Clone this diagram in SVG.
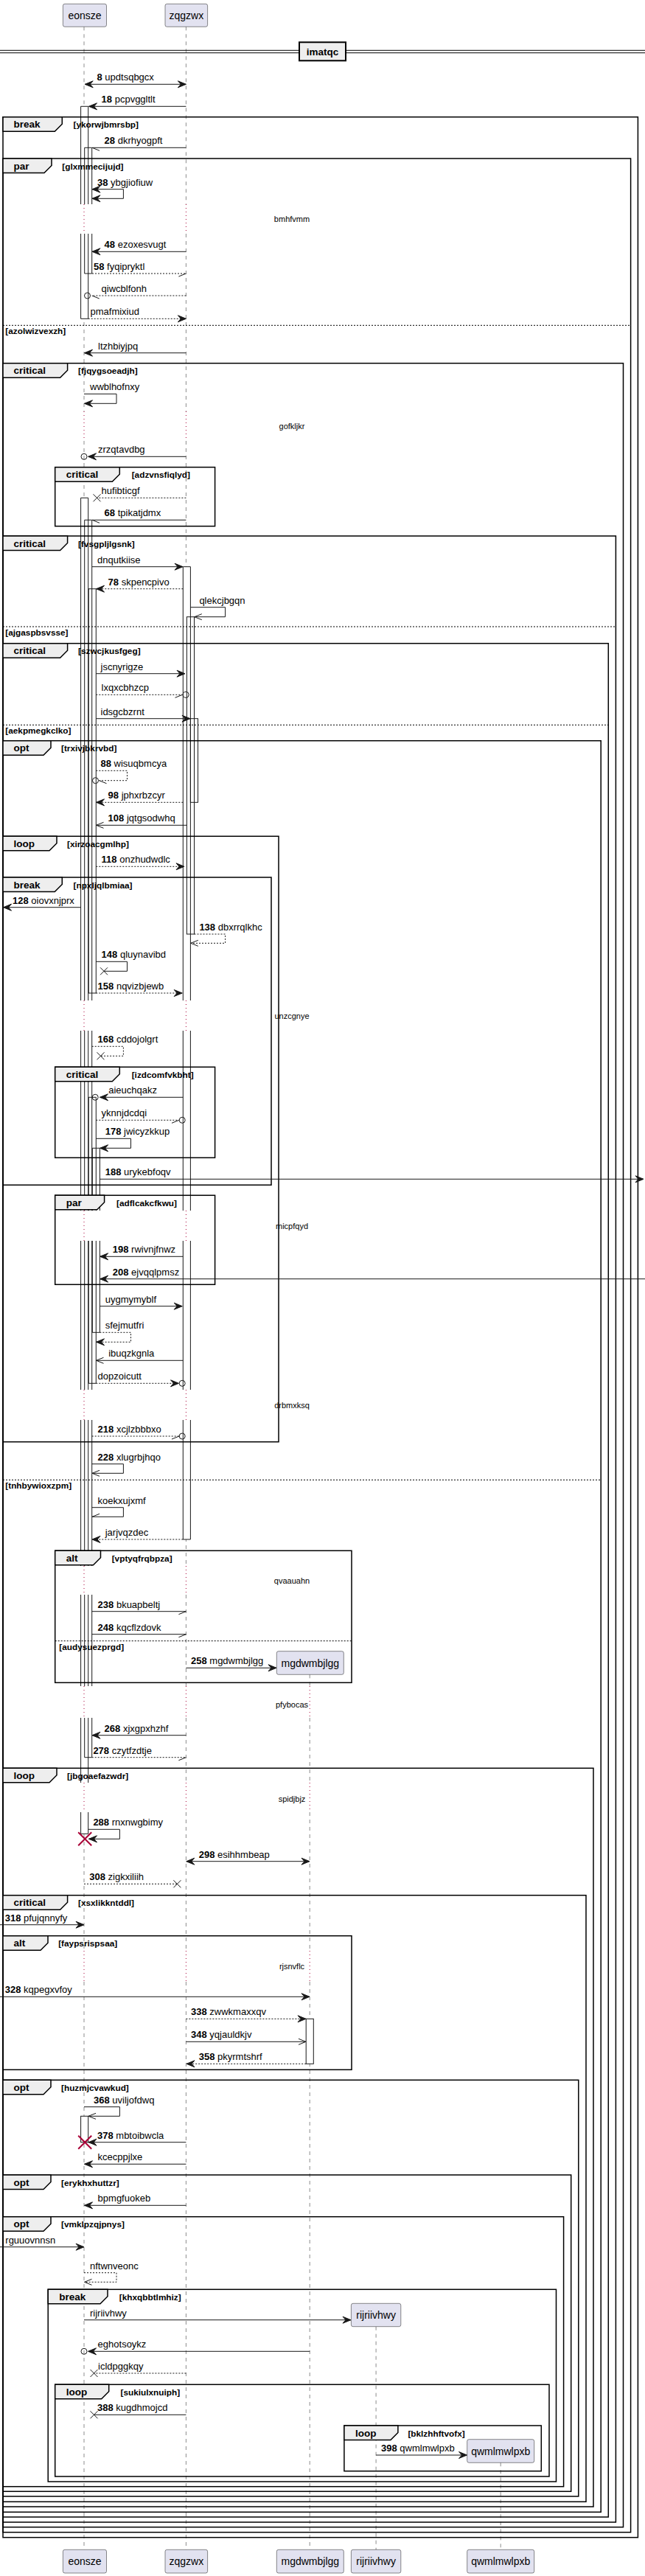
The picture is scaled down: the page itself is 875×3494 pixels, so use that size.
<svg xmlns="http://www.w3.org/2000/svg" width="875" height="3494" viewBox="0 0 875 3494">
<style>
text{font-family:'Liberation Sans',Arial,sans-serif;fill:#000000}
.t{font-size:13px}
.b{font-weight:bold}
.pt{font-size:14px;text-anchor:middle}
.tl{font-size:13.5px;font-weight:bold}
.cd{font-size:11.8px;font-weight:bold}
.dt{font-size:11px;text-anchor:middle}
.dv{font-size:13.5px;font-weight:bold;text-anchor:middle}
.ll{stroke:#181818;stroke-width:0.5;stroke-dasharray:5,5;fill:none}
.dl{stroke:#A80036;stroke-width:1;stroke-dasharray:1,4;fill:none}
.af{fill:#FFFFFF;stroke:none}
.as{fill:none;stroke:#181818;stroke-width:1}
.ar{fill:#FFFFFF;stroke:#181818;stroke-width:1}
.pb{fill:#E2E2F0;stroke:#181818;stroke-width:0.5}
.fr{fill:none;stroke:#000000;stroke-width:1.5}
.tb{fill:#EEEEEE;stroke:#000000;stroke-width:1.5}
.el{stroke:#000000;stroke-width:1;stroke-dasharray:2,2;fill:none}
.m{stroke:#181818;stroke-width:1;fill:none}
.d{stroke-dasharray:2,2}
.h{fill:#181818;stroke:#181818;stroke-width:1}
.c{fill:none;stroke:#181818;stroke-width:1}
.kx{stroke:#A80036;stroke-width:2;fill:none}
</style>
<rect x="0" y="0" width="875" height="3494" fill="#FFFFFF"/>

<g id="lifelines">
<path class="ll" d="M114,36.3V277 M114,317V558 M114,598V1357 M114,1398V1642 M114,1683V1885 M114,1926V2124 M114,2163V2287 M114,2330V2418 M114,2458V2646 M114,2688V3458.3"/>
<path class="ll" d="M252.4,36.3V277 M252.4,317V558 M252.4,598V1357 M252.4,1398V1642 M252.4,1683V1885 M252.4,1926V2124 M252.4,2163V2287 M252.4,2330V2418 M252.4,2458V2646 M252.4,2688V3458.3"/>
<path class="ll" d="M420.2,2271.3V2287 M420.2,2330V2418 M420.2,2458V2646 M420.2,2688V3458.3"/>
<path class="ll" d="M510.1,3155.7V3458.3"/>
<path class="ll" d="M679.2,3340.3V3458.3"/>
<path class="dl" d="M114,277V317 M114,558V598 M114,1357V1398 M114,1642V1683 M114,1885V1926 M114,2124V2163 M114,2287V2330 M114,2418V2458 M114,2646V2688"/>
<path class="dl" d="M252.4,277V317 M252.4,558V598 M252.4,1357V1398 M252.4,1642V1683 M252.4,1885V1926 M252.4,2124V2163 M252.4,2287V2330 M252.4,2418V2458 M252.4,2646V2688"/>
<path class="dl" d="M420.2,2287V2330 M420.2,2418V2458 M420.2,2646V2688"/>
</g>

<g id="activations">
<rect class="af" x="109.6" y="144.3" width="10.1" height="132.7"/>
<rect class="af" x="109.6" y="317" width="10.1" height="115.3"/>
<rect class="af" x="114.7" y="200.3" width="10" height="76.7"/>
<rect class="af" x="114.7" y="317" width="10" height="54"/>
<rect class="af" x="109.6" y="675.3" width="10.1" height="681.7"/>
<rect class="af" x="109.6" y="1398" width="10.1" height="244"/>
<rect class="af" x="109.6" y="1683" width="10.1" height="202"/>
<rect class="af" x="109.6" y="1926" width="10.1" height="198"/>
<rect class="af" x="109.6" y="2163" width="10.1" height="124"/>
<rect class="af" x="109.6" y="2330" width="10.1" height="88"/>
<rect class="af" x="109.6" y="2458" width="10.1" height="29.3"/>
<rect class="af" x="114.7" y="705.3" width="10" height="651.7"/>
<rect class="af" x="114.7" y="1398" width="10" height="244"/>
<rect class="af" x="114.7" y="1683" width="10" height="202"/>
<rect class="af" x="114.7" y="1926" width="10" height="198"/>
<rect class="af" x="114.7" y="2163" width="10" height="124"/>
<rect class="af" x="114.7" y="2330" width="10" height="53.7"/>
<rect class="af" x="120.2" y="798.7" width="10.1" height="548.3"/>
<rect class="af" x="120.2" y="1488.3" width="10.1" height="153.7"/>
<rect class="af" x="120.2" y="1683" width="10.1" height="193.3"/>
<rect class="af" x="125.3" y="1557.3" width="10.1" height="84.7"/>
<rect class="af" x="125.3" y="1683" width="10.1" height="124.3"/>
<rect class="af" x="109.6" y="2870.3" width="10.1" height="35.4"/>
<rect class="af" x="248.3" y="768.7" width="10.1" height="588.3"/>
<rect class="af" x="248.3" y="1398" width="10.1" height="244"/>
<rect class="af" x="248.3" y="1683" width="10.1" height="202"/>
<rect class="af" x="248.3" y="1926" width="10.1" height="162"/>
<rect class="af" x="253.4" y="836.7" width="10.1" height="430.3"/>
<rect class="af" x="258.4" y="974.7" width="10.1" height="113.6"/>
<rect class="af" x="415.2" y="2738.3" width="10.1" height="61"/>
<path class="as" d="M109.6,277V144.3H119.7V277 M109.6,317V432.3H119.7V317"/>
<path class="as" d="M114.7,277V200.3H124.7V277 M114.7,317V371H124.7V317"/>
<path class="as" d="M109.6,1357V675.3H119.7V1357 M109.6,1398V1642 M119.7,1398V1642 M109.6,1683V1885 M119.7,1683V1885 M109.6,1926V2124 M119.7,1926V2124 M109.6,2163V2287 M119.7,2163V2287 M109.6,2330V2418 M119.7,2330V2418 M109.6,2458V2487.3H119.7V2458"/>
<path class="as" d="M114.7,1357V705.3H124.7V1357 M114.7,1398V1642 M124.7,1398V1642 M114.7,1683V1885 M124.7,1683V1885 M114.7,1926V2124 M124.7,1926V2124 M114.7,2163V2287 M124.7,2163V2287 M114.7,2330V2383.7H124.7V2330"/>
<rect class="as" x="120.2" y="798.7" width="10.1" height="548.3"/>
<path class="as" d="M120.2,1642V1488.3H130.3V1642 M120.2,1683V1876.3H130.3V1683"/>
<path class="as" d="M125.3,1642V1557.3H135.4V1642 M125.3,1683V1807.3H135.4V1683"/>
<rect class="as" x="109.6" y="2870.3" width="10.1" height="35.4"/>
<path class="as" d="M248.3,1357V768.7H258.4V1357 M248.3,1398V1642 M258.4,1398V1642 M248.3,1683V1885 M258.4,1683V1885 M248.3,1926V2088H258.4V1926"/>
<rect class="as" x="253.4" y="836.7" width="10.1" height="430.3"/>
<rect class="as" x="258.4" y="974.7" width="10.1" height="113.6"/>
<rect class="as" x="415.2" y="2738.3" width="10.1" height="61"/>
</g>

<g id="frames">
<g id="f-ykorwjbmrsbp"><rect class="fr" x="4" y="158.7" width="861.4" height="3283"/><path class="tb" d="M4,158.7H84.3V168.2L74.3,178.2H4Z"/><text class="tl" x="18.5" y="173.2">break</text><text class="cd" x="99.5" y="173.2">[ykorwjbmrsbp]</text></g>
<g id="f-glxmmecijujd"><rect class="fr" x="4" y="215" width="851.6" height="3219.7"/><path class="tb" d="M4,215H70V224.5L60,234.5H4Z"/><text class="tl" x="18.5" y="229.5">par</text><text class="cd" x="84.3" y="229.5">[glxmmecijujd]</text><path class="el" d="M4,441.3H855.6"/><text class="cd" x="7.3" y="453.3">[azolwizvexzh]</text></g>
<g id="f-fjqygsoeadjh"><rect class="fr" x="4" y="492.7" width="841.5" height="2935"/><path class="tb" d="M4,492.7H91.6V502.2L81.6,512.2H4Z"/><text class="tl" x="18.5" y="507.2">critical</text><text class="cd" x="106" y="507.2">[fjqygsoeadjh]</text></g>
<g id="f-adzvnsfiqlyd"><rect class="fr" x="74.7" y="633.7" width="216.9" height="80"/><path class="tb" d="M74.7,633.7H162.3V643.2L152.3,653.2H74.7Z"/><text class="tl" x="89.7" y="648.2">critical</text><text class="cd" x="178.7" y="648.2">[adzvnsfiqlyd]</text></g>
<g id="f-fvsgpljlgsnk"><rect class="fr" x="4" y="727" width="831.4" height="2694"/><path class="tb" d="M4,727H91.6V736.5L81.6,746.5H4Z"/><text class="tl" x="18.5" y="741.5">critical</text><text class="cd" x="106" y="741.5">[fvsgpljlgsnk]</text><path class="el" d="M4,850H835.4"/><text class="cd" x="7.3" y="862">[ajgaspbsvsse]</text></g>
<g id="f-szwcjkusfgeg"><rect class="fr" x="4" y="872.7" width="821.3" height="2541.3"/><path class="tb" d="M4,872.7H91.6V882.2L81.6,892.2H4Z"/><text class="tl" x="18.5" y="887.2">critical</text><text class="cd" x="106" y="887.2">[szwcjkusfgeg]</text><path class="el" d="M4,983.3H825.3"/><text class="cd" x="7.3" y="995.3">[aekpmegkclko]</text></g>
<g id="f-trxivjbkrvbd"><rect class="fr" x="4" y="1004.7" width="811.2" height="2402.6"/><path class="tb" d="M4,1004.7H69V1014.2L59,1024.2H4Z"/><text class="tl" x="18.5" y="1019.2">opt</text><text class="cd" x="83" y="1019.2">[trxivjbkrvbd]</text><path class="el" d="M4,2007.3H815.2"/><text class="cd" x="7.3" y="2019.3">[tnhbywioxzpm]</text></g>
<g id="f-xirzoacgmlhp"><rect class="fr" x="4" y="1134.3" width="374" height="821.4"/><path class="tb" d="M4,1134.3H77V1143.8L67,1153.8H4Z"/><text class="tl" x="18.5" y="1148.8">loop</text><text class="cd" x="91" y="1148.8">[xirzoacgmlhp]</text></g>
<g id="f-npxljqlbmiaa"><rect class="fr" x="4" y="1190" width="364" height="417.3"/><path class="tb" d="M4,1190H84.3V1199.5L74.3,1209.5H4Z"/><text class="tl" x="18.5" y="1204.5">break</text><text class="cd" x="99.5" y="1204.5">[npxljqlbmiaa]</text></g>
<g id="f-izdcomfvkbht"><rect class="fr" x="74.7" y="1447.3" width="216.9" height="123"/><path class="tb" d="M74.7,1447.3H162.3V1456.8L152.3,1466.8H74.7Z"/><text class="tl" x="89.7" y="1461.8">critical</text><text class="cd" x="178.7" y="1461.8">[izdcomfvkbht]</text></g>
<g id="f-adflcakcfkwu"><rect class="fr" x="74.7" y="1621.3" width="216.9" height="121"/><path class="tb" d="M74.7,1621.3H141.6V1630.8L131.6,1640.8H74.7Z"/><text class="tl" x="89.7" y="1635.8">par</text><text class="cd" x="158" y="1635.8">[adflcakcfkwu]</text></g>
<g id="f-vptyqfrqbpza"><rect class="fr" x="74.7" y="2103.3" width="402.3" height="179"/><path class="tb" d="M74.7,2103.3H136.5V2112.8L126.5,2122.8H74.7Z"/><text class="tl" x="89.7" y="2117.8">alt</text><text class="cd" x="151.7" y="2117.8">[vptyqfrqbpza]</text><path class="el" d="M74.7,2225.7H477"/><text class="cd" x="80.3" y="2237.7">[audysuezprgd]</text></g>
<g id="f-jbgoaefazwdr"><rect class="fr" x="4" y="2398.3" width="801" height="1001.7"/><path class="tb" d="M4,2398.3H77V2407.8L67,2417.8H4Z"/><text class="tl" x="18.5" y="2412.8">loop</text><text class="cd" x="91" y="2412.8">[jbgoaefazwdr]</text></g>
<g id="f-xsxlikkntddl"><rect class="fr" x="4" y="2570.7" width="791" height="822.6"/><path class="tb" d="M4,2570.7H91.6V2580.2L81.6,2590.2H4Z"/><text class="tl" x="18.5" y="2585.2">critical</text><text class="cd" x="106" y="2585.2">[xsxlikkntddl]</text></g>
<g id="f-faypsrispsaa"><rect class="fr" x="4" y="2625.7" width="473" height="181.6"/><path class="tb" d="M4,2625.7H65V2635.2L55,2645.2H4Z"/><text class="tl" x="18.5" y="2640.2">alt</text><text class="cd" x="79.2" y="2640.2">[faypsrispsaa]</text></g>
<g id="f-huzmjcvawkud"><rect class="fr" x="4" y="2821.3" width="780.8" height="564.7"/><path class="tb" d="M4,2821.3H69V2830.8L59,2840.8H4Z"/><text class="tl" x="18.5" y="2835.8">opt</text><text class="cd" x="83" y="2835.8">[huzmjcvawkud]</text></g>
<g id="f-erykhxhuttzr"><rect class="fr" x="4" y="2950" width="770.7" height="429.3"/><path class="tb" d="M4,2950H69V2959.5L59,2969.5H4Z"/><text class="tl" x="18.5" y="2964.5">opt</text><text class="cd" x="83" y="2964.5">[erykhxhuttzr]</text></g>
<g id="f-vmklpzqjpnys"><rect class="fr" x="4" y="3006.7" width="760.6" height="366"/><path class="tb" d="M4,3006.7H69V3016.2L59,3026.2H4Z"/><text class="tl" x="18.5" y="3021.2">opt</text><text class="cd" x="83" y="3021.2">[vmklpzqjpnys]</text></g>
<g id="f-khxqbbtlmhiz"><rect class="fr" x="65.2" y="3105.3" width="689.3" height="260.7"/><path class="tb" d="M65.2,3105.3H146V3114.8L136,3124.8H65.2Z"/><text class="tl" x="80.2" y="3119.8">break</text><text class="cd" x="161.8" y="3119.8">[khxqbbtlmhiz]</text></g>
<g id="f-sukiulxnuiph"><rect class="fr" x="74.7" y="3234.3" width="670.3" height="124.7"/><path class="tb" d="M74.7,3234.3H147.7V3243.8L137.7,3253.8H74.7Z"/><text class="tl" x="89.7" y="3248.8">loop</text><text class="cd" x="163.5" y="3248.8">[sukiulxnuiph]</text></g>
<g id="f-bklzhhftvofx"><rect class="fr" x="466.9" y="3290" width="267.4" height="61.7"/><path class="tb" d="M466.9,3290H539.9V3299.5L529.9,3309.5H466.9Z"/><text class="tl" x="481.9" y="3304.5">loop</text><text class="cd" x="553.4" y="3304.5">[bklzhhftvofx]</text></g>
</g>

<g id="divider">
<path d="M0,68.3H875 M0,71.7H875" stroke="#000000" stroke-width="1" fill="none"/>
<rect x="406" y="57.3" width="63" height="25" fill="#EEEEEE" stroke="#000000" stroke-width="2"/>
<text class="dv" x="437.5" y="74.8">imatqc</text>
</g>

<g id="connectors">
<path class="m" d="M115.2,114.3H252.4"/><polygon class="h" points="126.2,109.8 115.2,114.3 126.2,118.8 122.2,114.3"/><polygon class="h" points="241.4,109.8 252.4,114.3 241.4,118.8 245.4,114.3"/>
<text class="t" x="131.5" y="109.3"><tspan class="b">8</tspan> updtsqbgcx</text>

<path class="m" d="M252.4,144.3H120.5"/><polygon class="h" points="131.5,139.8 120.5,144.3 131.5,148.8 127.5,144.3"/>
<text class="t" x="137.6" y="139.3"><tspan class="b">18</tspan> pcpvggltlt</text>

<path class="m" d="M252.4,200.3H125 M125,200.3L135,204.3"/>
<text class="t" x="141.6" y="195.3"><tspan class="b">28</tspan> dkrhyogpft</text>

<path class="m" d="M125,256.7H167.4V269.3H125"/><polygon class="h" points="136,252.2 125,256.7 136,261.2 132,256.7"/><polygon class="h" points="136,264.8 125,269.3 136,273.8 132,269.3"/>
<text class="t" x="132" y="251.7"><tspan class="b">38</tspan> ybgjiofiuw</text>

<path class="m" d="M252.4,341.3H125"/><polygon class="h" points="136,336.8 125,341.3 136,345.8 132,341.3"/>
<text class="t" x="141.6" y="336.3"><tspan class="b">48</tspan> ezoxesvugt</text>

<path class="m d" d="M125,371H252.4"/><path class="m" d="M252.4,371L242.4,375"/>
<text class="t" x="127" y="366"><tspan class="b">58</tspan> fyqipryktl</text>

<path class="m d" d="M252.4,401H124.7"/><circle class="c" cx="118.5" cy="401" r="4"/><path class="m" d="M124.7,401L134.7,405"/>
<text class="t" x="137.6" y="396">qiwcblfonh</text>

<path class="m d" d="M119.7,432.3H252.4"/><polygon class="h" points="241.4,427.8 252.4,432.3 241.4,436.8 245.4,432.3"/>
<text class="t" x="122.5" y="427.3">pmafmixiud</text>

<path class="m" d="M252.4,478.7H114.5"/><polygon class="h" points="125.5,474.2 114.5,478.7 125.5,483.2 121.5,478.7"/>
<text class="t" x="133" y="473.7">ltzhbiyjpq</text>

<path class="m" d="M114,534.3H158V547.3H114.5"/><polygon class="h" points="125.5,542.8 114.5,547.3 125.5,551.8 121.5,547.3"/>
<text class="t" x="122" y="529.3">wwblhofnxy</text>

<path class="m" d="M252.4,619.3H120.8"/><circle class="c" cx="114" cy="619.3" r="4"/><polygon class="h" points="130.5,614.8 119.5,619.3 130.5,623.8 126.5,619.3"/>
<text class="t" x="133" y="614.3">zrzqtavdbg</text>

<path class="m d" d="M252.4,675.3H131.5"/><path class="m" d="M126.5,670.3L136.5,680.3 M126.5,680.3L136.5,670.3"/>
<text class="t" x="137.6" y="670.3">hufibticgf</text>

<path class="m" d="M252.4,705.3H125 M125,705.3L135,709.3"/>
<text class="t" x="141.6" y="700.3"><tspan class="b">68</tspan> tpikatjdmx</text>

<path class="m" d="M125,768.7H248"/><polygon class="h" points="237,764.2 248,768.7 237,773.2 241,768.7"/>
<text class="t" x="132" y="763.7">dnqutkiise</text>

<path class="m d" d="M248.3,798.7H130.5"/><polygon class="h" points="141.5,794.2 130.5,798.7 141.5,803.2 137.5,798.7"/>
<text class="t" x="146.6" y="793.7"><tspan class="b">78</tspan> skpencpivo</text>

<path class="m" d="M258.4,823.7H305.6V836.7H263.8 M273.8,832.7L263.8,836.7L273.8,840.7"/>
<text class="t" x="270.4" y="818.7">qlekcjbgqn</text>

<path class="m" d="M130.3,913.7H251"/><polygon class="h" points="240,909.2 251,913.7 240,918.2 244,913.7"/>
<text class="t" x="136.5" y="908.7">jscnyrigze</text>

<path class="m d" d="M130.3,942.3H247.5"/><circle class="c" cx="252.2" cy="942.3" r="4"/><path class="m" d="M247.5,942.3L237.5,946.3"/>
<text class="t" x="137.6" y="937.3">lxqxcbhzcp</text>

<path class="m" d="M130.3,974.7H258"/><polygon class="h" points="247,970.2 258,974.7 247,979.2 251,974.7"/>
<text class="t" x="136.5" y="969.7">idsgcbzrnt</text>

<path class="m d" d="M130.3,1045.3H172.5V1058.7H134.5"/><circle class="c" cx="129.5" cy="1058.7" r="4"/><path class="m" d="M134.5,1058.7L144.5,1062.7"/>
<text class="t" x="136.5" y="1040.3"><tspan class="b">88</tspan> wisuqbmcya</text>

<path class="m d" d="M248.3,1088.3H130.5"/><polygon class="h" points="141.5,1083.8 130.5,1088.3 141.5,1092.8 137.5,1088.3"/>
<text class="t" x="146.6" y="1083.3"><tspan class="b">98</tspan> jphxrbzcyr</text>

<path class="m" d="M253.4,1119.3H130.5 M140.5,1115.3L130.5,1119.3L140.5,1123.3"/>
<text class="t" x="146.6" y="1114.3"><tspan class="b">108</tspan> jqtgsodwhq</text>

<path class="m d" d="M130.3,1175.3H250"/><polygon class="h" points="239,1170.8 250,1175.3 239,1179.8 243,1175.3"/>
<text class="t" x="137.6" y="1170.3"><tspan class="b">118</tspan> onzhudwdlc</text>

<path class="m" d="M109.6,1230.7H4.5"/><polygon class="h" points="15.5,1226.2 4.5,1230.7 15.5,1235.2 11.5,1230.7"/>
<text class="t" x="17" y="1225.7"><tspan class="b">128</tspan> oiovxnjprx</text>

<path class="m d" d="M263.5,1267H305.6V1279.3H258.8"/><path class="m" d="M268.8,1275.3L258.8,1279.3L268.8,1283.3"/>
<text class="t" x="270.4" y="1262"><tspan class="b">138</tspan> dbxrrqlkhc</text>

<path class="m" d="M130.3,1304.3H172.5V1317.3H141 M136,1312.3L146,1322.3 M136,1322.3L146,1312.3"/>
<text class="t" x="137.6" y="1299.3"><tspan class="b">148</tspan> qluynavibd</text>

<path class="m d" d="M130.3,1347H247.2"/><polygon class="h" points="236.2,1342.5 247.2,1347 236.2,1351.5 240.2,1347"/>
<text class="t" x="132.6" y="1342"><tspan class="b">158</tspan> nqvizbjewb</text>

<path class="m d" d="M124.7,1419.3H167.4V1432.3H136.5"/><path class="m" d="M131.5,1427.3L141.5,1437.3 M131.5,1437.3L141.5,1427.3"/>
<text class="t" x="132.6" y="1414.3"><tspan class="b">168</tspan> cddojolgrt</text>

<path class="m" d="M248.3,1488.3H135.5"/><circle class="c" cx="129.2" cy="1488.3" r="4"/><polygon class="h" points="146.5,1483.8 135.5,1488.3 146.5,1492.8 142.5,1488.3"/>
<text class="t" x="147.2" y="1483.3">aieuchqakz</text>

<path class="m d" d="M130.3,1519.3H243"/><circle class="c" cx="247.2" cy="1519.3" r="4"/><path class="m" d="M243,1519.3L233,1523.3"/>
<text class="t" x="137.6" y="1514.3">yknnjdcdqi</text>

<path class="m" d="M130.3,1544.3H177.5V1557.3H135.6"/><polygon class="h" points="146.6,1552.8 135.6,1557.3 146.6,1561.8 142.6,1557.3"/>
<text class="t" x="142.7" y="1539.3"><tspan class="b">178</tspan> jwicyzkkup</text>

<path class="m" d="M135.4,1599.3H873"/><polygon class="h" points="862,1594.8 873,1599.3 862,1603.8 866,1599.3"/>
<text class="t" x="142.7" y="1594.3"><tspan class="b">188</tspan> urykebfoqv</text>

<path class="m" d="M248.3,1704.3H135.6"/><polygon class="h" points="146.6,1699.8 135.6,1704.3 146.6,1708.8 142.6,1704.3"/>
<text class="t" x="152.8" y="1699.3"><tspan class="b">198</tspan> rwivnjfnwz</text>

<path class="m" d="M875,1734.7H135.6"/><polygon class="h" points="146.6,1730.2 135.6,1734.7 146.6,1739.2 142.6,1734.7"/>
<text class="t" x="152.8" y="1729.7"><tspan class="b">208</tspan> ejvqqlpmsz</text>

<path class="m" d="M135.4,1771.7H247.2"/><polygon class="h" points="236.2,1767.2 247.2,1771.7 236.2,1776.2 240.2,1771.7"/>
<text class="t" x="142.7" y="1766.7">uygmymyblf</text>

<path class="m d" d="M135.4,1807.3H177.5V1820.3H130.5"/><polygon class="h" points="141.5,1815.8 130.5,1820.3 141.5,1824.8 137.5,1820.3"/>
<text class="t" x="142.7" y="1802.3">sfejmutfri</text>

<path class="m" d="M248.3,1845.3H130.5 M140.5,1841.3L130.5,1845.3L140.5,1849.3"/>
<text class="t" x="147.2" y="1840.3">ibuqzkgnla</text>

<path class="m d" d="M130.3,1876.3H242.5"/><polygon class="h" points="231.5,1871.8 242.5,1876.3 231.5,1880.8 235.5,1876.3"/><circle class="c" cx="247.2" cy="1876.3" r="4"/>
<text class="t" x="132.6" y="1871.3">dopzoicutt</text>

<path class="m d" d="M124.7,1948H243"/><circle class="c" cx="247.2" cy="1948" r="4"/><path class="m" d="M243,1948L233,1952"/>
<text class="t" x="132.6" y="1943"><tspan class="b">218</tspan> xcjlzbbbxo</text>

<path class="m" d="M124.7,1985.7H167.4V1998.3H125 M135,1994.3L125,1998.3L135,2002.3"/>
<text class="t" x="132.6" y="1980.7"><tspan class="b">228</tspan> xlugrbjhqo</text>

<path class="m" d="M124.7,2044.7H167.4V2057.3H125 M125,2057.3L135,2053.3"/>
<text class="t" x="132.6" y="2039.7">koekxujxmf</text>

<path class="m d" d="M248.3,2088H125"/><polygon class="h" points="136,2083.5 125,2088 136,2092.5 132,2088"/>
<text class="t" x="142.7" y="2083">jarjvqzdec</text>

<path class="m" d="M124.7,2185.7H252.4 M252.4,2185.7L242.4,2189.7"/>
<text class="t" x="132.6" y="2180.7"><tspan class="b">238</tspan> bkuapbeltj</text>

<path class="m" d="M124.7,2216.7H252.4 M252.4,2216.7L242.4,2220.7"/>
<text class="t" x="132.6" y="2211.7"><tspan class="b">248</tspan> kqcflzdovk</text>

<path class="m" d="M252.4,2262.3H375"/><polygon class="h" points="364,2257.8 375,2262.3 364,2266.8 368,2262.3"/>
<text class="t" x="259" y="2257.3"><tspan class="b">258</tspan> mgdwmbjlgg</text>

<path class="m" d="M252.4,2353.7H125"/><polygon class="h" points="136,2349.2 125,2353.7 136,2358.2 132,2353.7"/>
<text class="t" x="141.6" y="2348.7"><tspan class="b">268</tspan> xjxgpxhzhf</text>

<path class="m d" d="M124.7,2383.7H252.4"/><path class="m" d="M252.4,2383.7L242.4,2387.7"/>
<text class="t" x="126.4" y="2378.7"><tspan class="b">278</tspan> czytfzdtje</text>

<path class="m" d="M119.7,2481.3H162.4V2494.3H120.5"/><polygon class="h" points="131.5,2489.8 120.5,2494.3 131.5,2498.8 127.5,2494.3"/>
<path class="kx" d="M106.2,2485.3L124.2,2503.3 M106.2,2503.3L124.2,2485.3"/>
<text class="t" x="126.4" y="2476.3"><tspan class="b">288</tspan> rnxnwgbimy</text>

<path class="m" d="M252.8,2524.7H420"/><polygon class="h" points="263.8,2520.2 252.8,2524.7 263.8,2529.2 259.8,2524.7"/><polygon class="h" points="409,2520.2 420,2524.7 409,2529.2 413,2524.7"/>
<text class="t" x="269.7" y="2519.7"><tspan class="b">298</tspan> esihhmbeap</text>

<path class="m d" d="M114,2555.3H240.4"/><path class="m" d="M235.4,2550.3L245.4,2560.3 M235.4,2560.3L245.4,2550.3"/>
<text class="t" x="121.3" y="2550.3"><tspan class="b">308</tspan> zigkxiliih</text>

<path class="m" d="M0,2610.7H114"/><polygon class="h" points="103,2606.2 114,2610.7 103,2615.2 107,2610.7"/>
<text class="t" x="6.7" y="2605.7"><tspan class="b">318</tspan> pfujqnnyfy</text>

<path class="m" d="M0,2708.3H420"/><polygon class="h" points="409,2703.8 420,2708.3 409,2712.8 413,2708.3"/>
<text class="t" x="6.7" y="2703.3"><tspan class="b">328</tspan> kqpegxvfoy</text>

<path class="m d" d="M252.4,2738.3H415"/><polygon class="h" points="404,2733.8 415,2738.3 404,2742.8 408,2738.3"/>
<text class="t" x="259" y="2733.3"><tspan class="b">338</tspan> zwwkmaxxqv</text>

<path class="m" d="M252.4,2769.3H415 M405,2765.3L415,2769.3L405,2773.3"/>
<text class="t" x="259" y="2764.3"><tspan class="b">348</tspan> yqjauldkjv</text>

<path class="m d" d="M415.2,2799.3H253"/><polygon class="h" points="264,2794.8 253,2799.3 264,2803.8 260,2799.3"/>
<text class="t" x="269.7" y="2794.3"><tspan class="b">358</tspan> pkyrmtshrf</text>

<path class="m" d="M114,2857.7H162.4V2870.3H120 M130,2866.3L120,2870.3L130,2874.3"/>
<text class="t" x="127" y="2852.7"><tspan class="b">368</tspan> uviljofdwq</text>

<path class="m" d="M252.4,2905.7H120"/><polygon class="h" points="131,2901.2 120,2905.7 131,2910.2 127,2905.7"/>
<path class="kx" d="M106.2,2896.7L124.2,2914.7 M106.2,2914.7L124.2,2896.7"/>
<text class="t" x="132" y="2900.7"><tspan class="b">378</tspan> mbtoibwcla</text>

<path class="m" d="M252.4,2935.3H114.5"/><polygon class="h" points="125.5,2930.8 114.5,2935.3 125.5,2939.8 121.5,2935.3"/>
<text class="t" x="132.6" y="2930.3">kcecppjlxe</text>

<path class="m" d="M252.4,2991.3H114.5"/><polygon class="h" points="125.5,2986.8 114.5,2991.3 125.5,2995.8 121.5,2991.3"/>
<text class="t" x="132.6" y="2986.3">bpmgfuokeb</text>

<path class="m" d="M0,3047.7H114"/><polygon class="h" points="103,3043.2 114,3047.7 103,3052.2 107,3047.7"/>
<text class="t" x="7.3" y="3042.7">rguuovnnsn</text>

<path class="m d" d="M114,3082.7H158V3095.3H114.5"/><path class="m" d="M124.5,3091.3L114.5,3095.3L124.5,3099.3"/>
<text class="t" x="122" y="3077.7">nftwnveonc</text>

<path class="m" d="M114,3146.7H476"/><polygon class="h" points="465,3142.2 476,3146.7 465,3151.2 469,3146.7"/>
<text class="t" x="122" y="3141.7">rijriivhwy</text>

<path class="m" d="M420.2,3189.3H120.5"/><circle class="c" cx="114" cy="3189.3" r="4"/><polygon class="h" points="130.5,3184.8 119.5,3189.3 130.5,3193.8 126.5,3189.3"/>
<text class="t" x="132.6" y="3184.3">eghotsoykz</text>

<path class="m d" d="M252.4,3219H127.5"/><path class="m" d="M122.5,3214L132.5,3224 M122.5,3224L132.5,3214"/>
<text class="t" x="133" y="3214">icldpggkqy</text>

<path class="m" d="M252.4,3275.3H127.5 M122.5,3270.3L132.5,3280.3 M122.5,3280.3L132.5,3270.3"/>
<text class="t" x="132" y="3270.3"><tspan class="b">388</tspan> kugdhmojcd</text>

<path class="m" d="M510.1,3330H633.5"/><polygon class="h" points="622.5,3325.5 633.5,3330 622.5,3334.5 626.5,3330"/>
<text class="t" x="517" y="3325"><tspan class="b">398</tspan> qwmlmwlpxb</text>
</g>

<g id="p-eonsze">
<rect class="pb" x="85.4" y="5.3" width="59.1" height="31" rx="2.5"/><text class="pt" x="115" y="26.3">eonsze</text>
<rect class="pb" x="85.4" y="3458.3" width="59.1" height="31.7" rx="2.5"/><text class="pt" x="115" y="3479.3">eonsze</text>
</g>
<g id="p-zqgzwx">
<rect class="pb" x="224" y="5.3" width="57.6" height="31" rx="2.5"/><text class="pt" x="252.8" y="26.3">zqgzwx</text>
<rect class="pb" x="224" y="3458.3" width="57.6" height="31.7" rx="2.5"/><text class="pt" x="252.8" y="3479.3">zqgzwx</text>
</g>
<g id="p-mgdwmbjlgg">
<rect class="pb" x="375.3" y="2239.7" width="91" height="31.6" rx="2.5"/><text class="pt" x="420.8" y="2260.7">mgdwmbjlgg</text>
<rect class="pb" x="375.3" y="3458.3" width="91" height="31.7" rx="2.5"/><text class="pt" x="420.8" y="3479.3">mgdwmbjlgg</text>
</g>
<g id="p-rijriivhwy">
<rect class="pb" x="476.4" y="3124.3" width="67.4" height="31.4" rx="2.5"/><text class="pt" x="510.1" y="3145.3">rijriivhwy</text>
<rect class="pb" x="476.4" y="3458.3" width="67.4" height="31.7" rx="2.5"/><text class="pt" x="510.1" y="3479.3">rijriivhwy</text>
</g>
<g id="p-qwmlmwlpxb">
<rect class="pb" x="633.7" y="3308.7" width="91" height="31.6" rx="2.5"/><text class="pt" x="679.2" y="3329.7">qwmlmwlpxb</text>
<rect class="pb" x="633.7" y="3458.3" width="91" height="31.7" rx="2.5"/><text class="pt" x="679.2" y="3479.3">qwmlmwlpxb</text>
</g>

<g id="delays">
<text class="dt" x="396" y="301">bmhfvmm</text>
<text class="dt" x="396" y="582">gofkljkr</text>
<text class="dt" x="396" y="1381.7">unzcgnye</text>
<text class="dt" x="396" y="1666.7">micpfqyd</text>
<text class="dt" x="396" y="1909.7">drbmxksq</text>
<text class="dt" x="396" y="2147.7">qvaauahn</text>
<text class="dt" x="396" y="2316">pfybocas</text>
<text class="dt" x="396" y="2443.7">spidjbjz</text>
<text class="dt" x="396" y="2670.7">rjsnvflc</text>
</g>
</svg>
